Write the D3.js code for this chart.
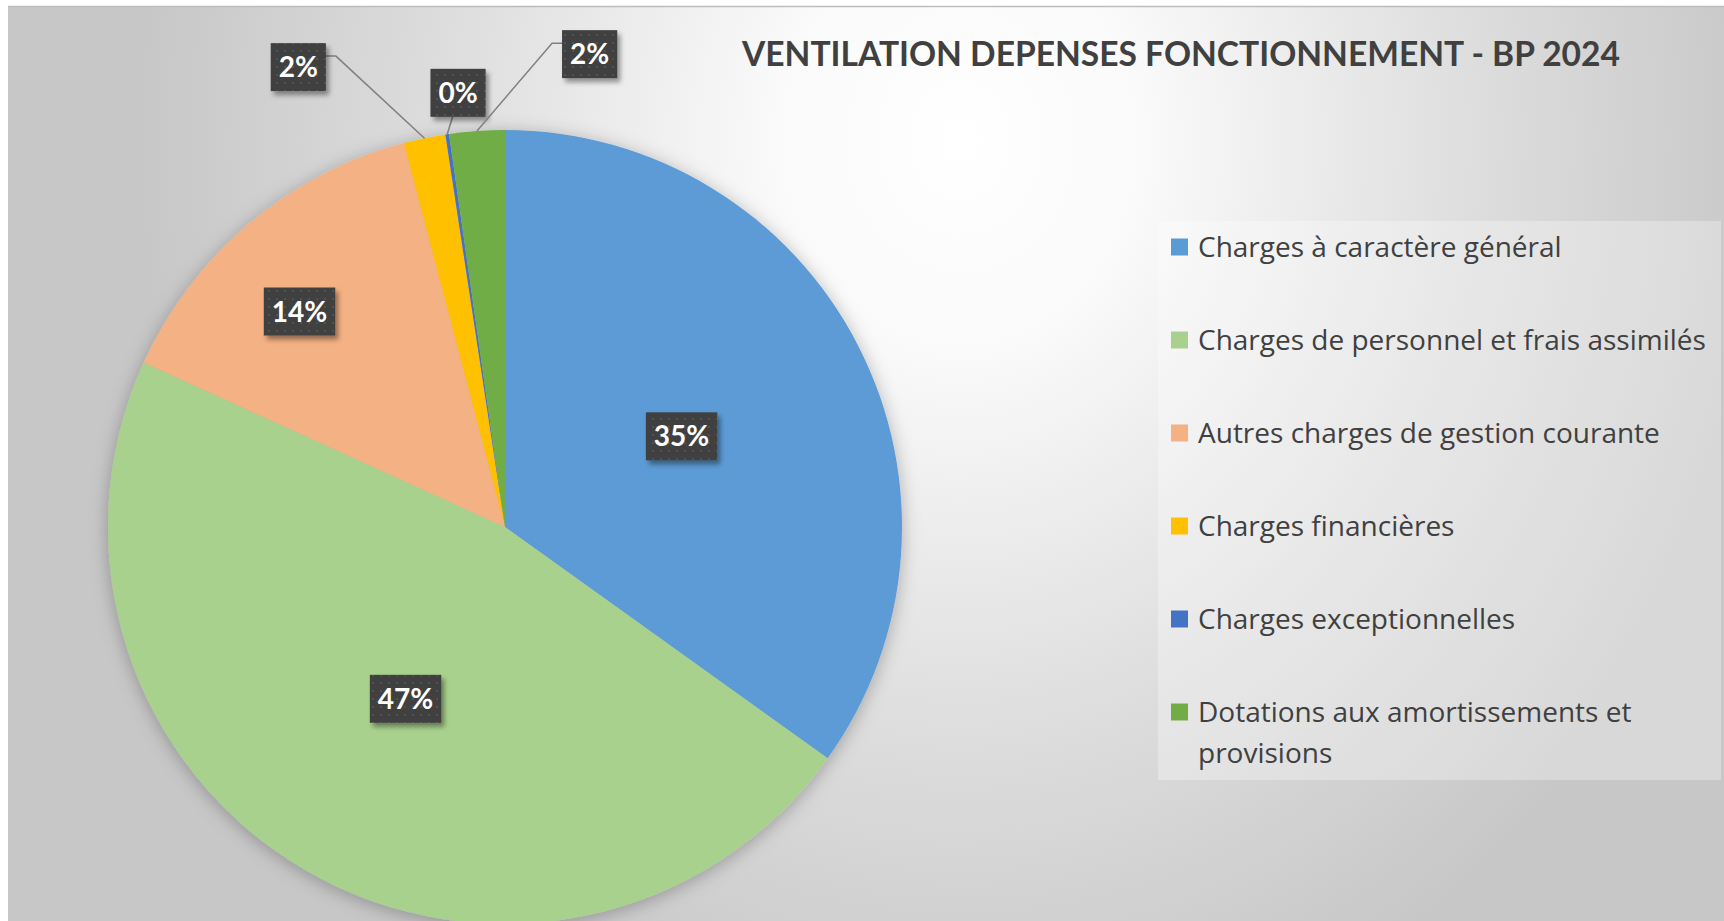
<!DOCTYPE html>
<html lang="fr">
<head>
<meta charset="UTF-8">
<title>Ventilation dépenses fonctionnement - BP 2024</title>
<script src="https://d3js.org/d3.v7.min.js"></script>
<style>
  body { margin: 0; background: #ffffff; }
  svg { display: block; }
  .legend text { font-family: "Open Sans", Lato, sans-serif; fill: #404040; }
</style>
</head>
<body>
<svg id="chart" width="1724" height="921"></svg>
<script>
// chart data
const categories = [
  "Charges à caractère général",
  "Charges de personnel et frais assimilés",
  "Autres charges de gestion courante",
  "Charges financières",
  "Charges exceptionnelles",
  "Dotations aux amortissements et provisions"
];
const values = [34.9, 46.9, 14.1, 1.7, 0.15, 2.25];
const colors = ["#5B9BD5", "#A9D18E", "#F4B183", "#FFC000", "#4472C4", "#70AD47"];
const title = "VENTILATION DEPENSES FONCTIONNEMENT - BP 2024";

// where each data label sits: radius factor and angle offset (degrees) from slice middle
const labelPlace = [
  { k: 0.5, da: 0 },
  { k: 0.5, da: 0 },
  { k: 0.75, da: -3.5 },
  { k: 1.27, da: -12.5 },
  { k: 1.10, da: 2.2 },
  { k: 1.21, da: 14.2 }
];

const W = 1724, H = 921;
const cx = 505, cy = 527, R = 397;

const svg = d3.select("#chart");
const defs = svg.append("defs");

// background gradient
const bg = defs.append("radialGradient")
  .attr("id", "bgGrad")
  .attr("gradientUnits", "userSpaceOnUse")
  .attr("cx", 960).attr("cy", 140).attr("r", 820)
  .attr("gradientTransform", "translate(960,140) scale(1,1.15) translate(-960,-140)");
bg.append("stop").attr("offset", 0).attr("stop-color", "#ffffff");
bg.append("stop").attr("offset", 0.22).attr("stop-color", "#fafafa");
bg.append("stop").attr("offset", 0.65).attr("stop-color", "#dcdcdc");
bg.append("stop").attr("offset", 1).attr("stop-color", "#c7c7c7");

// shadows
const pieShadow = defs.append("filter").attr("id", "pieShadow")
  .attr("x", "-20%").attr("y", "-20%").attr("width", "140%").attr("height", "140%");
pieShadow.append("feDropShadow").attr("dx", 0).attr("dy", 3).attr("stdDeviation", 9)
  .attr("flood-color", "#000").attr("flood-opacity", 0.28);

const boxShadow = defs.append("filter").attr("id", "boxShadow")
  .attr("x", "-30%").attr("y", "-30%").attr("width", "160%").attr("height", "160%");
boxShadow.append("feDropShadow").attr("dx", 3).attr("dy", 4).attr("stdDeviation", 2.5)
  .attr("flood-color", "#000").attr("flood-opacity", 0.4);

// dotted pattern of the label boxes
const pat = defs.append("pattern").attr("id", "dots")
  .attr("patternUnits", "userSpaceOnUse").attr("width", 8).attr("height", 8);
pat.append("rect").attr("width", 8).attr("height", 8).attr("fill", "#404040");
pat.append("circle").attr("cx", 4).attr("cy", 4).attr("r", 1).attr("fill", "#565656");

// chart area
svg.append("rect")
  .attr("x", 8).attr("y", 6).attr("width", W - 8).attr("height", H - 6)
  .attr("fill", "url(#bgGrad)");
svg.append("line")
  .attr("x1", 8).attr("x2", W).attr("y1", 6.5).attr("y2", 6.5)
  .attr("stroke", "#bdbdbd").attr("stroke-width", 1.5);

// title
svg.append("text")
  .attr("x", 1181).attr("y", 66)
  .attr("text-anchor", "middle")
  .attr("font-family", "Lato, 'Open Sans', sans-serif")
  .attr("font-weight", "bold")
  .attr("font-size", 35)
  .attr("fill", "#404040")
  .attr("textLength", 878)
  .attr("lengthAdjust", "spacingAndGlyphs")
  .text(title);

// pie
const slices = categories.map((c, i) => ({ name: c, value: values[i], color: colors[i], place: labelPlace[i] }));
const total = d3.sum(values);
const fmt = d3.format(".0%");

const pie = d3.pie().sort(null).value(d => d.value);
const arc = d3.arc().innerRadius(0).outerRadius(R);
const arcs = pie(slices);

const g = svg.append("g").attr("transform", `translate(${cx},${cy})`);

g.append("g")
  .attr("filter", "url(#pieShadow)")
  .selectAll("path")
  .data(arcs)
  .join("path")
  .attr("d", arc)
  .attr("fill", d => d.data.color);

// data labels
const labels = g.append("g");
arcs.forEach(function(d) {
  const mid = (d.startAngle + d.endAngle) / 2;
  const a = mid + d.data.place.da * Math.PI / 180;
  const lx = Math.sin(a) * R * d.data.place.k;
  const ly = -Math.cos(a) * R * d.data.place.k;

  const lg = labels.append("g");
  const txt = lg.append("text")
    .attr("x", lx).attr("y", ly)
    .attr("text-anchor", "middle")
    .attr("dy", "0.36em")
    .attr("font-family", "Lato, 'Open Sans', sans-serif")
    .attr("font-weight", "bold")
    .attr("font-size", 28)
    .attr("fill", "#ffffff")
    .text(fmt(d.data.value / total));

  const bw = txt.node().getComputedTextLength() + 16;
  const bh = 48;
  const bx = lx - bw / 2, by = ly - bh / 2;

  // leader line for labels outside the pie
  if (d.data.place.k > 1) {
    const px = Math.sin(mid) * R, py = -Math.cos(mid) * R;
    let pts;
    if (px > bx + bw) {
      pts = [[px, py], [bx + bw + 10, by + 13], [bx + bw, by + 13]];
    } else if (px < bx) {
      pts = [[px, py], [bx - 10, by + 13], [bx, by + 13]];
    } else {
      pts = [[px, py], [(px + lx) / 2, by + bh]];
    }
    lg.insert("path", "text")
      .attr("d", d3.line()(pts))
      .attr("fill", "none")
      .attr("stroke", "#808080")
      .attr("stroke-width", 1.5);
  }

  lg.insert("rect", "text")
    .attr("x", bx).attr("y", by).attr("width", bw).attr("height", bh)
    .attr("fill", "url(#dots)")
    .attr("filter", "url(#boxShadow)");
});

// legend
const legend = svg.append("g").attr("class", "legend");
legend.append("rect")
  .attr("x", 1158).attr("y", 221).attr("width", 563).attr("height", 559)
  .attr("fill", "#ffffff").attr("fill-opacity", 0.3);

const rowY = d3.scalePoint().domain(categories).range([247, 712]);
const maxW = 540;

const rows = legend.selectAll("g.row")
  .data(slices)
  .join("g")
  .attr("class", "row")
  .attr("transform", d => `translate(1171,${rowY(d.name)})`);

rows.append("rect")
  .attr("x", 0).attr("y", -8.5).attr("width", 17).attr("height", 17)
  .attr("fill", d => d.color);

rows.each(function(d) {
  const t = d3.select(this).append("text")
    .attr("x", 27).attr("y", 0).attr("dy", "0.35em")
    .attr("font-size", 28);
  // simple word wrap
  const words = d.name.split(" ");
  let line = [];
  let tspan = t.append("tspan").attr("x", 27);
  words.forEach(w => {
    line.push(w);
    tspan.text(line.join(" "));
    if (tspan.node().getComputedTextLength() > maxW && line.length > 1) {
      line.pop();
      tspan.text(line.join(" "));
      line = [w];
      tspan = t.append("tspan").attr("x", 27).attr("dy", "1.47em").text(w);
    }
  });
});
</script>
</body>
</html>
